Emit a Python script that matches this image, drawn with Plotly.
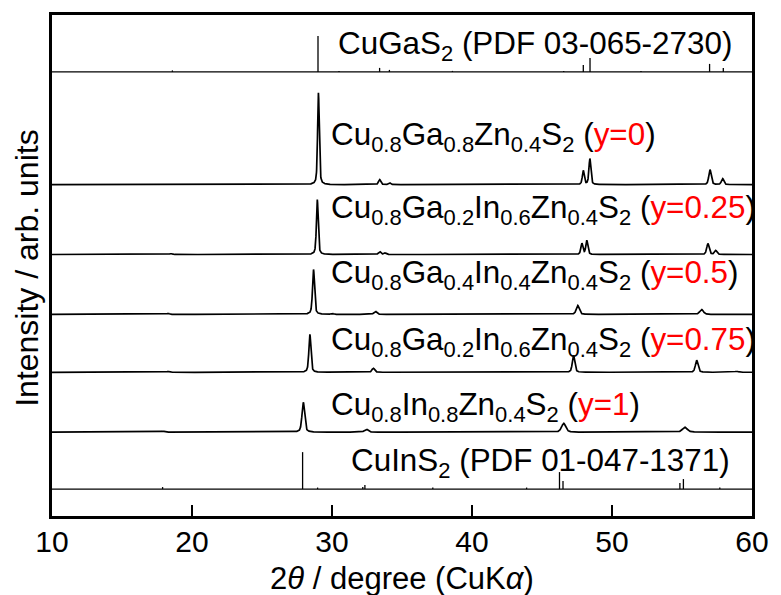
import numpy as np
import plotly.graph_objects as go

# ---------------- data ----------------
x_min, x_max = 10, 60
x_ticks = [10, 20, 30, 40, 50, 60]

# reference stick patterns: 2theta, relative height (arb. units)
cugas2_pos = [18.6, 29.0, 30.5, 33.4, 34.1, 38.6, 46.55, 47.95, 48.43, 52.07, 56.97, 57.95]
cugas2_int = [1.5, 36, 1, 4, 2, 1, 1, 7, 14, 1, 8, 4]
cuins2_pos = [17.9, 27.9, 28.97, 32.2, 32.35, 37.2, 43.9, 46.25, 46.5, 54.85, 55.1, 57.7]
cuins2_int = [2, 37, 1.5, 2, 4, 1.5, 1.5, 17, 8, 6, 10, 1.5]

# measured patterns: peak positions, heights, widths (FWHM, deg)
y0_pos = [29.03, 33.4, 34.1, 47.95, 48.42, 57.0, 57.9]
y0_int = [92, 5, 2, 14, 26, 15, 6]
y0_fwhm = [0.14, 0.18, 0.18, 0.16, 0.16, 0.2, 0.2]

y025_pos = [18.5, 28.95, 33.4, 33.8, 47.85, 48.2, 56.85, 57.4]
y025_int = [1, 55, 3, 1.5, 11, 14, 11, 4]
y025_fwhm = [0.2, 0.15, 0.2, 0.2, 0.17, 0.17, 0.2, 0.2]

y05_pos = [18.3, 26.0, 28.68, 30.0, 33.1, 47.55, 56.4]
y05_int = [1, 0.6, 45, 1, 3, 9, 5]
y05_fwhm = [0.2, 0.3, 0.17, 0.2, 0.25, 0.25, 0.3]

y075_pos = [18.3, 28.42, 32.95, 47.25, 56.05, 58.9]
y075_int = [1, 38, 4, 17, 12, 1]
y075_fwhm = [0.2, 0.17, 0.22, 0.2, 0.22, 0.3]

y1_pos = [17.9, 27.95, 32.45, 46.55, 55.2]
y1_int = [1, 30, 3, 9, 5]
y1_fwhm = [0.3, 0.22, 0.3, 0.35, 0.4]

pattern_labels = [
    "Cu<sub>0.8</sub>Ga<sub>0.8</sub>Zn<sub>0.4</sub>S<sub>2</sub> (<span style='color:red'>y=0</span>)",
    "Cu<sub>0.8</sub>Ga<sub>0.2</sub>In<sub>0.6</sub>Zn<sub>0.4</sub>S<sub>2</sub> (<span style='color:red'>y=0.25</span>)",
    "Cu<sub>0.8</sub>Ga<sub>0.4</sub>In<sub>0.4</sub>Zn<sub>0.4</sub>S<sub>2</sub> (<span style='color:red'>y=0.5</span>)",
    "Cu<sub>0.8</sub>Ga<sub>0.2</sub>In<sub>0.6</sub>Zn<sub>0.4</sub>S<sub>2</sub> (<span style='color:red'>y=0.75</span>)",
    "Cu<sub>0.8</sub>In<sub>0.8</sub>Zn<sub>0.4</sub>S<sub>2</sub> (<span style='color:red'>y=1</span>)",
]
cugas2_label = "CuGaS<sub>2</sub> (PDF 03-065-2730)"
cuins2_label = "CuInS<sub>2</sub> (PDF 01-047-1371)"

x_title = "2<i>θ</i> / degree (CuK<i>α</i>)"
y_title = "Intensity / arb. units"

# ---------------- layout constants ----------------
Y_RANGE = 502
offsets_patterns = [332, 262, 202, 144, 84]
offset_cugas2 = 445
offset_cuins2 = 27
label_y_patterns = [380, 307, 241, 174, 109]
label_x_patterns = [29.82, 29.82, 29.82, 29.82, 29.82]
FONT = "Liberation Sans, Arial, Helvetica, sans-serif"
FS = 31.4

fig = go.Figure()

grid = np.arange(x_min, x_max + 0.005, 0.01)


def profile(pos, inten, fwhm):
    y = np.zeros_like(grid)
    for p, h, w in zip(pos, inten, fwhm):
        g = np.exp(-4 * np.log(2) * ((grid - p) / w) ** 2)
        l = 1.0 / (1.0 + 4 * ((grid - p) / w) ** 2)
        y += h * (0.5 * g + 0.5 * l)
    return y


patterns = [
    (y0_pos, y0_int, y0_fwhm),
    (y025_pos, y025_int, y025_fwhm),
    (y05_pos, y05_int, y05_fwhm),
    (y075_pos, y075_int, y075_fwhm),
    (y1_pos, y1_int, y1_fwhm),
]

for (pos, inten, fwhm), off in zip(patterns, offsets_patterns):
    fig.add_trace(go.Scatter(x=grid, y=profile(pos, inten, fwhm) + off, mode="lines",
                             line=dict(color="black", width=1.7), hoverinfo="skip",
                             showlegend=False))


def sticks(pos, inten, off):
    xs, ys = [x_min, x_max, None], [off, off, None]
    for p, h in zip(pos, inten):
        xs += [p, p, None]
        ys += [off, off + h, None]
    return xs, ys


for pos, inten, off in [(cugas2_pos, cugas2_int, offset_cugas2),
                        (cuins2_pos, cuins2_int, offset_cuins2)]:
    xs, ys = sticks(pos, inten, off)
    fig.add_trace(go.Scatter(x=xs, y=ys, mode="lines",
                             line=dict(color="black", width=1.3), hoverinfo="skip",
                             showlegend=False))

annotations = []
for txt, xa, ya in zip(pattern_labels, label_x_patterns, label_y_patterns):
    annotations.append(dict(x=xa, y=ya, xref="x", yref="y", text=txt, showarrow=False,
                            xanchor="left", yanchor="middle",
                            font=dict(family=FONT, size=FS, color="black")))
annotations.append(dict(x=30.31, y=471, xref="x", yref="y", text=cugas2_label, showarrow=False,
                        xanchor="left", yanchor="middle", font=dict(family=FONT, size=FS, color="black")))
annotations.append(dict(x=31.23, y=53, xref="x", yref="y", text=cuins2_label, showarrow=False,
                        xanchor="left", yanchor="middle", font=dict(family=FONT, size=FS, color="black")))
annotations.append(dict(x=0.5, y=-0.125, xref="paper", yref="paper", text=x_title, showarrow=False,
                        xanchor="center", yanchor="middle", font=dict(family=FONT, size=31, color="black")))
annotations.append(dict(x=-0.036, y=0.495, xref="paper", yref="paper", text=y_title, showarrow=False,
                        textangle=-90, xanchor="center", yanchor="middle",
                        font=dict(family=FONT, size=32, color="black")))

fig.update_layout(
    width=781, height=595,
    margin=dict(l=52, r=20, t=14, b=79),
    paper_bgcolor="white", plot_bgcolor="white",
    showlegend=False,
    annotations=annotations,
    font=dict(family=FONT, size=FS, color="black"),
)
fig.update_xaxes(range=[x_min, x_max], tickvals=x_ticks, ticks="inside", ticklen=11, tickwidth=2,
                 tickcolor="black", showline=True, linewidth=2.5, linecolor="black", mirror=True,
                 showgrid=False, zeroline=False, ticklabelstandoff=-3,
                 tickfont=dict(family=FONT, size=30, color="black"))
fig.update_yaxes(range=[0, Y_RANGE], showticklabels=False, ticks="", showline=True, linewidth=2.5,
                 linecolor="black", mirror=True, showgrid=False, zeroline=False)

fig.write_html("out.html")
